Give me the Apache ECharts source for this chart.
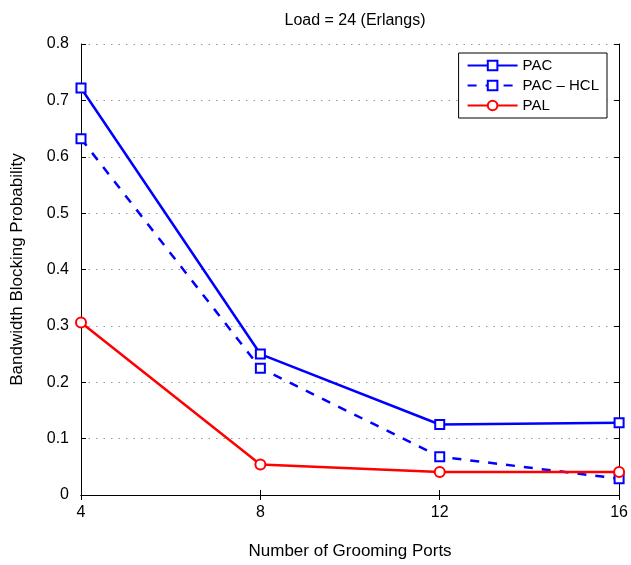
<!DOCTYPE html>
<html>
<head>
<meta charset="utf-8">
<script src="https://cdn.jsdelivr.net/npm/echarts@6/dist/echarts.min.js"></script>
<style>
  html, body { margin: 0; padding: 0; background: #fff; }
  #chart { width: 631px; height: 565px; }
</style>
</head>
<body>
<div id="chart"></div>
<script>
  var ports = [4, 8, 12, 16];
  var pac = [0.722, 0.250, 0.125, 0.128];
  var pacHcl = [0.632, 0.225, 0.068, 0.029];
  var pal = [0.306, 0.054, 0.041, 0.041];

  function pairs(ys) {
    return ports.map(function (x, i) { return [x, ys[i]]; });
  }

  var font = 'Liberation Sans, Arial, sans-serif';
  var chart = echarts.init(document.getElementById('chart'));

  var hiddenAxis = {
    axisLine: { show: true, lineStyle: { color: '#000', width: 1 } },
    axisTick: { show: true, inside: true, length: 5, lineStyle: { color: '#000' } },
    axisLabel: { show: false },
    splitLine: { show: false }
  };

  chart.setOption({
    animation: false,
    title: {
      text: 'Load = 24 (Erlangs)',
      left: 350, top: 8, textAlign: 'center',
      textStyle: { fontFamily: font, fontSize: 16, fontWeight: 'normal', color: '#000' }
    },
    legend: {
      right: 24, top: 53,
      orient: 'vertical',
      backgroundColor: '#fff',
      borderColor: '#000', borderWidth: 1, borderRadius: 0,
      padding: [5, 8, 5, 8],
      itemGap: 5, itemWidth: 50, itemHeight: 12,
      textStyle: { fontFamily: font, fontSize: 15, color: '#000' },
      data: ['PAC', 'PAC \u2013 HCL', 'PAL']
    },
    grid: { left: 81, right: 11, top: 44, bottom: 70 },
    xAxis: [
      {
        type: 'value', min: 4, max: 16, interval: 4,
        name: 'Number of Grooming Ports', nameLocation: 'middle', nameGap: 48,
        nameTextStyle: { fontFamily: font, fontSize: 17, color: '#000' },
        axisLine: { show: true, lineStyle: { color: '#000' } },
        axisTick: { inside: true, length: 5, lineStyle: { color: '#000' } },
        axisLabel: { fontFamily: font, fontSize: 16, color: '#000', margin: 10 },
        splitLine: { show: false }
      },
      Object.assign({ type: 'value', position: 'top', min: 4, max: 16, interval: 4 }, hiddenAxis)
    ],
    yAxis: [
      {
        type: 'value', min: 0, max: 0.8, interval: 0.1,
        name: 'Bandwidth Blocking Probability', nameLocation: 'middle', nameGap: 55,
        nameTextStyle: { fontFamily: font, fontSize: 17, color: '#000' },
        axisLine: { show: true, lineStyle: { color: '#000' } },
        axisTick: { inside: true, length: 5, lineStyle: { color: '#000' } },
        axisLabel: { fontFamily: font, fontSize: 16, color: '#000', margin: 12 },
        splitLine: { show: true, lineStyle: { color: '#999', type: [1.5, 6], width: 1.2 } }
      },
      Object.assign({ type: 'value', position: 'right', min: 0, max: 0.8, interval: 0.1 }, hiddenAxis)
    ],
    series: [
      {
        name: 'PAC', type: 'line', data: pairs(pac),
        symbol: 'rect', symbolSize: 9, showAllSymbol: true,
        lineStyle: { color: '#0000ff', width: 2.5 },
        itemStyle: { color: '#fff', borderColor: '#0000ff', borderWidth: 2 }
      },
      {
        name: 'PAC \u2013 HCL', type: 'line', data: pairs(pacHcl),
        symbol: 'rect', symbolSize: 9,
        lineStyle: { color: '#0000ff', width: 2.5, type: [9, 9] },
        itemStyle: { color: '#fff', borderColor: '#0000ff', borderWidth: 2 }
      },
      {
        name: 'PAL', type: 'line', data: pairs(pal),
        symbol: 'circle', symbolSize: 10,
        lineStyle: { color: '#ff0000', width: 2.5 },
        itemStyle: { color: '#fff', borderColor: '#ff0000', borderWidth: 2 }
      }
    ]
  });
</script>
</body>
</html>
